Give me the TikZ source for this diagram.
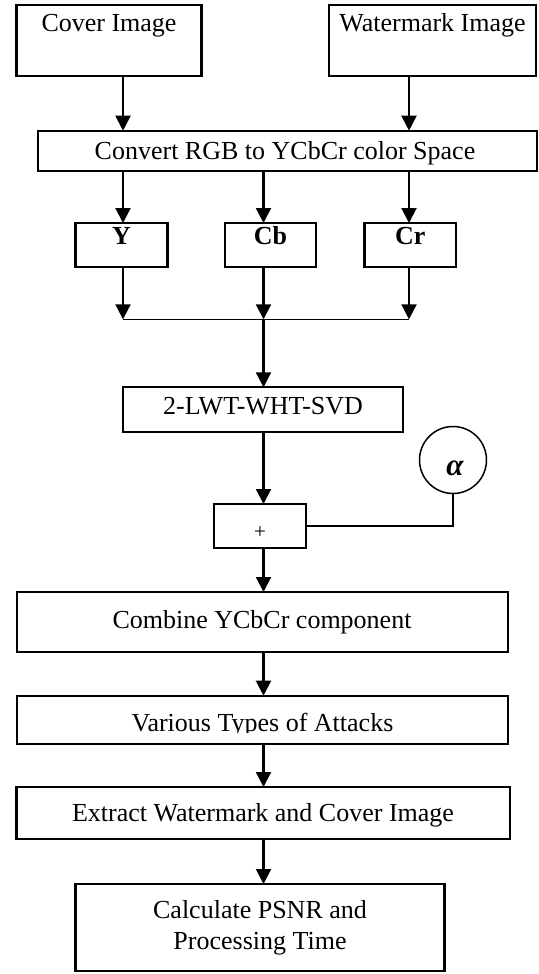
\documentclass[tikz,border=0pt]{standalone}
\usepackage{fontspec}
\setmainfont{Liberation Serif}
\usetikzlibrary{arrows.meta}

\begin{document}
\begin{tikzpicture}[x=1pt,y=-1pt,
  blk/.style={draw=black, line width=2.1pt, fill=white, inner sep=0pt, outer sep=0pt},
  lbl/.style={anchor=base, inner sep=0pt, font=\fontsize{26}{31}\selectfont},
  arr/.style={line width=2.1pt, -{Triangle[width=15pt,length=15pt]}},
  thin/.style={line width=1.5pt}]
\useasboundingbox (0,0) rectangle (538,974);
\fill[white] (0,0) rectangle (538,974);

% column positions of the vertical connectors
\coordinate (xl) at (123,0);
\coordinate (xm) at (263.5,0);
\coordinate (xr) at (409,0);

% input images
\node[blk, minimum width=185pt, minimum height=71pt] (cover) at (109,40.5) {};
\node[lbl] (covertxt) at (109,32) {Cover Image};
\node[blk, minimum width=207pt, minimum height=71pt] (water) at (432.5,40.5) {};
\node[lbl] (watertxt) at (432.5,32) {Watermark Image};

% colour conversion
\node[blk, minimum width=499pt, minimum height=40pt] (conv) at (287.3,150.7) {};
\node[lbl] (convtxt) at (285,159) {Convert RGB to YCbCr color Space};

% channels
\node[blk, minimum width=92pt, minimum height=44pt] (ybox) at (121.5,245) {};
\node[lbl, font=\fontsize{26}{31}\selectfont\bfseries] (ytxt) at (121.5,244) {Y};
\node[blk, minimum width=91pt, minimum height=44pt] (cbbox) at (270.5,245) {};
\node[lbl, font=\fontsize{26}{31}\selectfont\bfseries] (cbtxt) at (270.5,244) {Cb};
\node[blk, minimum width=91.5pt, minimum height=44pt] (crbox) at (410.2,245) {};
\node[lbl, font=\fontsize{26}{31}\selectfont\bfseries] (crtxt) at (410.2,244) {Cr};

% junction points
\coordinate (jl) at (123,319.3);
\coordinate (jm) at (263.5,319.3);
\coordinate (jr) at (409,319.3);

% transform
\node[blk, minimum width=280pt, minimum height=45pt] (lwt) at (263,409.8) {};
\node[lbl] (lwttxt) at (263,414) {2-LWT-WHT-SVD};

% embedding
\node[blk, minimum width=91.5pt, minimum height=44pt] (plus) at (259.8,526) {};
\node[lbl, font=\fontsize{21}{24}\selectfont] (plustxt) at (260,538) {+};
\node[draw=black, line width=1.5pt, circle, minimum size=67pt, inner sep=0pt] (alpha) at (453,460) {};
\node[anchor=base, inner sep=0pt, font=\fontsize{31}{36}\selectfont\bfseries\itshape] (alphatxt) at (455,475) {α};

% later stages
\node[blk, minimum width=491.5pt, minimum height=60pt] (comb) at (262.3,622) {};
\node[lbl] (combtxt) at (262,628.3) {Combine YCbCr component};
\node[blk, minimum width=491.5pt, minimum height=48pt] (att) at (262.3,719.7) {};
\begin{scope}
  \clip (20,700) rectangle (505,732);
  \node[lbl] (atttxt) at (262.5,731) {Various Types of Attacks};
\end{scope}
\node[blk, minimum width=493.8pt, minimum height=52pt] (extr) at (263.4,813) {};
\node[lbl] (extrtxt) at (263,821.7) {Extract Watermark and Cover Image};
\node[blk, minimum width=369pt, minimum height=87pt] (calc) at (260,927.5) {};
\node[lbl] (calctxta) at (260,918) {Calculate PSNR and};
\node[lbl] (calctxtb) at (260,949) {Processing Time};

% connectors
\draw[arr] (cover.south -| xl) -- (conv.north -| xl);
\draw[arr] (water.south -| xr) -- (conv.north -| xr);
\draw[arr] (conv.south -| xl) -- (ybox.north -| xl);
\draw[arr] (conv.south -| xm) -- (cbbox.north -| xm);
\draw[arr] (conv.south -| xr) -- (crbox.north -| xr);
\draw[arr] (ybox.south -| xl) -- (jl);
\draw[arr] (cbbox.south -| xm) -- (jm);
\draw[arr] (crbox.south -| xr) -- (jr);
\draw[thin] (jl) -- (jr);
\draw[arr] (jm) -- (lwt.north -| jm);
\draw[arr] (lwt.south -| xm) -- (plus.north -| xm);
\draw[thin] (alpha.south) |- (plus.east);
\draw[arr] (plus.south -| xm) -- (comb.north -| xm);
\draw[arr] (comb.south -| xm) -- (att.north -| xm);
\draw[arr] (att.south -| xm) -- (extr.north -| xm);
\draw[arr] (extr.south -| xm) -- (calc.north -| xm);
\end{tikzpicture}
\end{document}
